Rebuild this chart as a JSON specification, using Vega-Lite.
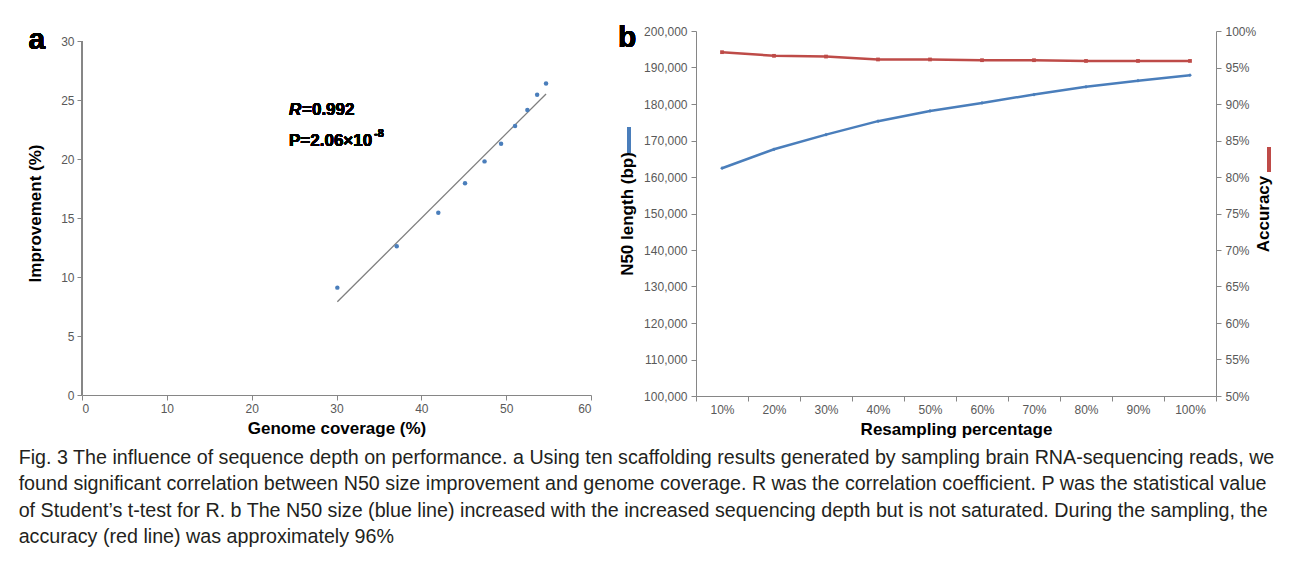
{
  "$schema": "https://vega.github.io/schema/vega-lite/v6.json",
  "background": "white",
  "padding": {"left": 18, "top": 23, "right": 10, "bottom": 5},
  "spacing": 26,
  "config": {
    "font": "Liberation Sans",
    "view": {"stroke": null},
    "axis": {
      "grid": false,
      "domainColor": "#868686",
      "tickColor": "#868686",
      "labelColor": "#595959",
      "labelFontSize": 12,
      "labelFont": "Liberation Sans",
      "titleFont": "Liberation Sans",
      "titleFontSize": 17,
      "titleFontWeight": "bold",
      "titleColor": "#000000",
      "tickSize": 5,
      "labelPadding": 3
    }
  },
  "title": {
    "text": [
      "Fig. 3 The influence of sequence depth on performance. a Using ten scaffolding results generated by sampling brain RNA-sequencing reads, we",
      "found significant correlation between N50 size improvement and genome coverage. R was the correlation coefficient. P was the statistical value",
      "of Student’s t-test for R. b The N50 size (blue line) increased with the increased sequencing depth but is not saturated. During the sampling, the",
      "accuracy (red line) was approximately 96%"
    ],
    "orient": "bottom",
    "anchor": "start",
    "font": "Liberation Sans",
    "fontSize": 19.7,
    "fontWeight": "normal",
    "lineHeight": 26.3,
    "color": "#231f20",
    "offset": 11,
    "dx": -8
  },
  "datasets": {
    "coverage": [
      {"coverage": 30.1, "improvement": 9.1},
      {"coverage": 37.1, "improvement": 12.6},
      {"coverage": 42.0, "improvement": 15.45},
      {"coverage": 45.15, "improvement": 17.95},
      {"coverage": 47.45, "improvement": 19.8},
      {"coverage": 49.4, "improvement": 21.3},
      {"coverage": 51.05, "improvement": 22.8},
      {"coverage": 52.5, "improvement": 24.15},
      {"coverage": 53.65, "improvement": 25.45},
      {"coverage": 54.7, "improvement": 26.4}
    ],
    "resampling": [
      {"pct": "10%", "n50": 162400, "accuracy": 0.971},
      {"pct": "20%", "n50": 167600, "accuracy": 0.966},
      {"pct": "30%", "n50": 171600, "accuracy": 0.965},
      {"pct": "40%", "n50": 175300, "accuracy": 0.961},
      {"pct": "50%", "n50": 178100, "accuracy": 0.961},
      {"pct": "60%", "n50": 180300, "accuracy": 0.960},
      {"pct": "70%", "n50": 182600, "accuracy": 0.960},
      {"pct": "80%", "n50": 184700, "accuracy": 0.959},
      {"pct": "90%", "n50": 186400, "accuracy": 0.959},
      {"pct": "100%", "n50": 187900, "accuracy": 0.959}
    ]
  },
  "hconcat": [
    {
      "width": 509,
      "height": 364,
      "data": {"name": "coverage"},
      "layer": [
        {
          "mark": {"type": "rule", "color": "#868686", "strokeWidth": 1},
          "encoding": {"x": {"datum": 0}, "y": {"datum": 0}, "y2": {"datum": 30}}
        },
        {
          "transform": [{"regression": "improvement", "on": "coverage"}],
          "mark": {"type": "line", "color": "#7f7f7f", "strokeWidth": 1.3},
          "encoding": {
            "x": {"field": "coverage", "type": "quantitative"},
            "y": {"field": "improvement", "type": "quantitative"}
          }
        },
        {
          "mark": {"type": "point", "shape": "circle", "filled": true, "opacity": 1, "color": "#4a7ebb", "size": 20},
          "encoding": {
            "x": {
              "field": "coverage",
              "type": "quantitative",
              "scale": {"domain": [0, 60], "nice": false, "zero": true},
              "axis": {"title": "Genome coverage (%)", "values": [0, 10, 20, 30, 40, 50, 60], "titlePadding": 6}
            },
            "y": {
              "field": "improvement",
              "type": "quantitative",
              "scale": {"domain": [0, 30.85], "nice": false},
              "axis": {"title": "Improvement (%)", "values": [0, 5, 10, 15, 20, 25, 30], "titlePadding": 16, "domain": false}
            }
          }
        },
        {
          "mark": {"type": "text", "text": "a", "fontWeight": "bold", "fontSize": 30, "align": "left", "baseline": "alphabetic", "color": "#000000"},
          "encoding": {"x": {"datum": -6.3}, "y": {"datum": 29.32}}
        },
        {
          "mark": {"type": "text", "text": "R", "fontStyle": "italic", "fontWeight": "bold", "fontSize": 17, "align": "left", "baseline": "middle", "color": "#000000"},
          "encoding": {"x": {"datum": 24.4}, "y": {"datum": 24.15}}
        },
        {
          "mark": {"type": "text", "text": "=0.992", "fontWeight": "bold", "fontSize": 17, "align": "left", "baseline": "middle", "dx": 13, "color": "#000000"},
          "encoding": {"x": {"datum": 24.4}, "y": {"datum": 24.15}}
        },
        {
          "mark": {"type": "text", "text": "P=2.06×10", "fontWeight": "bold", "fontSize": 17, "align": "left", "baseline": "middle", "color": "#000000"},
          "encoding": {"x": {"datum": 24.4}, "y": {"datum": 21.55}}
        },
        {
          "mark": {"type": "text", "text": "-8", "fontWeight": "bold", "fontSize": 11, "align": "left", "baseline": "middle", "dx": 85, "dy": -7, "color": "#000000"},
          "encoding": {"x": {"datum": 24.4}, "y": {"datum": 21.55}}
        }
      ]
    },
    {
      "width": 520,
      "height": 365,
      "data": {"name": "resampling"},
      "encoding": {
        "x": {
          "field": "pct",
          "type": "ordinal",
          "sort": null,
          "scale": {"type": "band", "paddingInner": 0, "paddingOuter": 0},
          "axis": {"title": "Resampling percentage", "labelAngle": 0, "tickBand": "extent", "titlePadding": 6}
        }
      },
      "layer": [
        {
          "layer": [
            {
              "mark": {"type": "line", "color": "#4a7ebb", "strokeWidth": 2.5, "point": {"filled": true, "size": 14, "shape": "diamond", "color": "#4a7ebb"}},
              "encoding": {
                "y": {
                  "field": "n50",
                  "type": "quantitative",
                  "scale": {"domain": [100000, 200000], "nice": false, "zero": false},
                  "axis": {"title": "N50 length (bp)", "format": ",.0f", "values": [100000, 110000, 120000, 130000, 140000, 150000, 160000, 170000, 180000, 190000, 200000], "titlePadding": 7, "labelPadding": 4}
                }
              }
            },
            {
              "mark": {"type": "text", "text": "b", "fontWeight": "bold", "fontSize": 30, "align": "left", "baseline": "alphabetic", "dx": -104, "color": "#000000"},
              "encoding": {
                "x": {"datum": "10%"},
                "y": {
                  "datum": 195600,
                  "type": "quantitative",
                  "axis": {"title": "N50 length (bp)", "format": ",.0f", "values": [100000, 110000, 120000, 130000, 140000, 150000, 160000, 170000, 180000, 190000, 200000], "titlePadding": 7, "labelPadding": 4}
                }
              }
            },
            {
              "mark": {"type": "rule", "color": "#4a7ebb", "strokeWidth": 3, "xOffset": -93},
              "encoding": {
                "x": {"datum": "10%"},
                "y": {
                  "datum": 173700,
                  "type": "quantitative",
                  "axis": {"title": "N50 length (bp)", "format": ",.0f", "values": [100000, 110000, 120000, 130000, 140000, 150000, 160000, 170000, 180000, 190000, 200000], "titlePadding": 7, "labelPadding": 4}
                },
                "y2": {"datum": 166600}
              }
            }
          ]
        },
        {
          "layer": [
            {
              "mark": {"type": "line", "color": "#be4b48", "strokeWidth": 2.5, "point": {"filled": true, "size": 14, "shape": "square", "color": "#be4b48"}},
              "encoding": {
                "y": {
                  "field": "accuracy",
                  "type": "quantitative",
                  "scale": {"domain": [0.5, 1.0], "nice": false, "zero": false},
                  "axis": {"title": "Accuracy", "orient": "right", "format": ".0%", "titleAngle": 270, "values": [0.5, 0.55, 0.6, 0.65, 0.7, 0.75, 0.8, 0.85, 0.9, 0.95, 1.0], "titlePadding": 17, "labelPadding": 4}
                }
              }
            },
            {
              "mark": {"type": "rule", "color": "#be4b48", "strokeWidth": 3, "xOffset": 79},
              "encoding": {
                "x": {"datum": "100%"},
                "y": {
                  "datum": 0.841,
                  "type": "quantitative",
                  "axis": {"title": "Accuracy", "orient": "right", "format": ".0%", "titleAngle": 270, "values": [0.5, 0.55, 0.6, 0.65, 0.7, 0.75, 0.8, 0.85, 0.9, 0.95, 1.0], "titlePadding": 17, "labelPadding": 4}
                },
                "y2": {"datum": 0.807}
              }
            }
          ]
        }
      ],
      "resolve": {"scale": {"y": "independent"}}
    }
  ]
}
